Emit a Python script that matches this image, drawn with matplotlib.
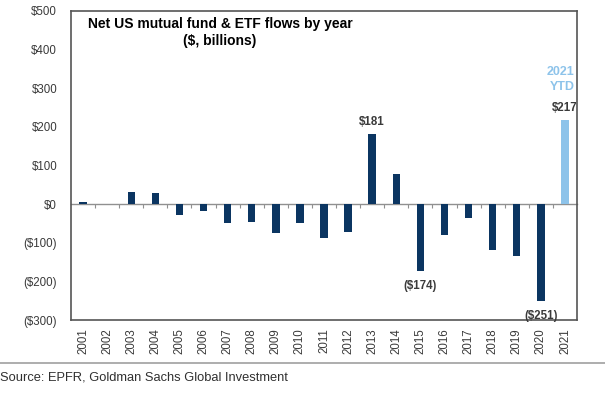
import matplotlib
matplotlib.use("Agg")
import matplotlib.pyplot as plt
from matplotlib.lines import Line2D
import numpy as np

years = [str(y) for y in range(2001, 2022)]
flows = [5, 1, 32, 28, -29, -18, -48, -47, -76, -48, -87, -72,
         181, 79, -174, -80, -35, -120, -135, -251, 217]
yticks = [-300, -200, -100, 0, 100, 200, 300, 400, 500]
ytick_labels = ["($300)", "($200)", "($100)", "$0", "$100", "$200", "$300", "$400", "$500"]
annotated = {12: "$181", 14: "($174)", 19: "($251)", 20: "$217"}

plt.rcParams['font.family'] = ['Liberation Sans', 'DejaVu Sans']

navy = "#0b3561"
light = "#8dc3ea"
gray_txt = "#3a3a3a"
frame = "#555555"

fig = plt.figure(figsize=(6.05, 3.96), dpi=100)
ax = fig.add_axes([71/605, 1-320/396, 506/605, 309/396])

x = np.arange(len(years))
colors = [navy] * (len(years) - 1) + [light]
ax.bar(x, flows, width=0.31, color=colors, zorder=3)

ax.set_xlim(-0.5, len(years) - 0.5)
ax.set_ylim(-300, 500)
ax.set_yticks(yticks)
ax.set_yticklabels(ytick_labels)
ax.set_xticks(x)
ax.set_xticklabels(years, rotation=90)
ax.tick_params(axis='y', length=0, pad=10, labelsize=8.3, labelcolor=gray_txt)
ax.tick_params(axis='x', length=0, pad=6, labelsize=8.3, labelcolor=gray_txt)
for s in ax.spines.values():
    s.set_color(frame)
    s.set_linewidth(1.2)

# zero line with boundary ticks
sec = ax.secondary_xaxis(300/800)
sec.set_xticks(np.arange(len(years) - 1) + 0.5)
sec.set_xticklabels([])
sec.tick_params(axis='x', direction='out', length=3, width=0.8, color="#909090")
sec.spines['bottom'].set_color("#909090")
sec.spines['bottom'].set_linewidth(1.0)

for i, lab in annotated.items():
    v = flows[i]
    if v >= 0:
        ax.annotate(lab, xy=(i, v), xytext=(0, 4.5), textcoords='offset points',
                    ha='center', va='bottom', fontsize=8.3, fontweight='bold', color=gray_txt)
    else:
        ax.annotate(lab, xy=(i, v), xytext=(0, -6.5), textcoords='offset points',
                    ha='center', va='top', fontsize=8.3, fontweight='bold', color=gray_txt)

ax.annotate("2021\nYTD", xy=(20, flows[20]), xytext=(7, 20), textcoords='offset points',
            ha='right', va='bottom', multialignment='right', fontsize=9,
            fontweight='bold', color=light, linespacing=1.3)

ax.text(220/605, 1-24/396, "Net US mutual fund & ETF flows by year", transform=fig.transFigure,
        ha='center', va='center', fontsize=10, fontweight='bold', color='black')
ax.text(220/605, 1-41/396, "($, billions)", transform=fig.transFigure,
        ha='center', va='center', fontsize=10, fontweight='bold', color='black')

fig.add_artist(Line2D([0, 1], [1-363/396, 1-363/396], transform=fig.transFigure,
                      color="#a0a0a0", linewidth=1.2))
fig.text(0.0, 1-378/396, "Source: EPFR, Goldman Sachs Global Investment", ha='left',
         va='center', fontsize=9.3, color="#303030")

fig.savefig("out.png", dpi=100)
